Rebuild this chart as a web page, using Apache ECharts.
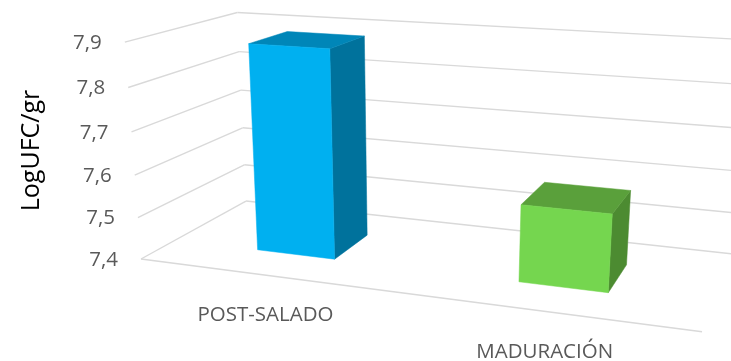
<!DOCTYPE html>
<html>
<head>
<meta charset="utf-8">
<style>html,body{margin:0;padding:0;background:#fff}#c{width:731px;height:361px}</style>
<script src="https://cdn.jsdelivr.net/npm/echarts@6/dist/echarts.min.js"></script>
</head>
<body>
<div id="c"></div>
<script>
var categories = ['POST-SALADO', 'MADURACIÓN'];
var values = [7.886, 7.576];
var ticks = [7.4, 7.5, 7.6, 7.7, 7.8, 7.9];
var tickLabels = ['7,4', '7,5', '7,6', '7,7', '7,8', '7,9'];
var axisTitle = 'LogUFC/gr';
var faceColors = [
  { front: '#00B0F0', side: '#00729C', top: '#0086B8' },
  { front: '#75D64F', side: '#4C8B31', top: '#5AA03B' }
];

// Perspective view of the plot box: vanishing points of the three box directions,
// the near floor corner and the scale along each direction.
var FONT = '"Open Sans", sans-serif';
var GRID = { left: 125, top: 42, right: 29, bottom: 102 };
var ORIGIN = [141, 259];
var VP_U = [-3170, -170], SU = -0.1449;
var VP_V = [420, 4000], SV = -0.0548;
var VP_W = [907, -164], SW = 0.1588;
var BAR_W0 = 0.3, BAR_W1 = 0.68, BAR_BAND = 0.31;

function project(u, v, w) {
  var a = SU * u, b = SV * v, c = SW * w, d = 1 + a + b + c;
  return [
    (ORIGIN[0] + a * VP_U[0] + b * VP_V[0] + c * VP_W[0]) / d,
    (ORIGIN[1] + a * VP_U[1] + b * VP_V[1] + c * VP_W[1]) / d
  ];
}
function uOf(px, r) { return (px - r.x) / r.width; }
function vOf(py, r) { return (r.y + r.height - py) / r.height; }
var lineStyle = { stroke: '#D9D9D9', lineWidth: 1.4, fill: null };
function seg(p, q) {
  return { type: 'line', shape: { x1: p[0], y1: p[1], x2: q[0], y2: q[1] }, style: lineStyle, silent: true };
}
function face(pts, color) {
  return { type: 'polygon', shape: { points: pts }, style: { fill: color, stroke: color, lineWidth: 0.5 }, silent: true };
}

function renderWall(params, api) {
  var r = params.coordSys;
  var v = vOf(api.coord([0, api.value(1)])[1], r);
  var kids = [
    seg(project(0, v, 0), project(0, v, 1)),
    seg(project(0, v, 1), project(1, v, 1))
  ];
  if (params.dataIndex === 0) kids.push(seg(project(0, 0, 0), project(1, 0, 0)));
  var p = project(0, v, 0);
  kids.push({
    type: 'text', silent: true,
    style: { text: tickLabels[params.dataIndex], x: p[0] - 23, y: p[1] + 1,
      textAlign: 'right', textVerticalAlign: 'middle', font: '20.5px ' + FONT, fill: '#595959' }
  });
  return { type: 'group', children: kids };
}

function renderBar(params, api) {
  var r = params.coordSys, i = api.value(0);
  var top = api.coord([i, api.value(1)]);
  var half = api.size([1, 0])[0] * BAR_BAND / 2;
  var u0 = uOf(top[0] - half, r), u1 = uOf(top[0] + half, r), v = vOf(top[1], r);
  var c = faceColors[params.dataIndex];
  var w0 = BAR_W0, w1 = BAR_W1;
  return { type: 'group', children: [
    face([project(u1, 0, w0), project(u1, 0, w1), project(u1, v, w1), project(u1, v, w0)], c.side),
    face([project(u0, v, w0), project(u1, v, w0), project(u1, v, w1), project(u0, v, w1)], c.top),
    face([project(u0, 0, w0), project(u1, 0, w0), project(u1, v, w0), project(u0, v, w0)], c.front)
  ] };
}

function renderCategory(params, api) {
  var r = params.coordSys;
  var u = uOf(api.coord([api.value(0), ticks[0]])[0], r);
  var p = project(u, 0, 0);
  return { type: 'text', silent: true,
    style: { text: categories[params.dataIndex], x: p[0], y: p[1] + 40.5,
      textAlign: 'center', textVerticalAlign: 'middle', font: '20.5px ' + FONT, fill: '#595959' } };
}

var chart = echarts.init(document.getElementById('c'), null, { renderer: 'canvas' });
chart.setOption({
  animation: false,
  backgroundColor: '#fff',
  tooltip: { show: false },
  grid: GRID,
  xAxis: { type: 'category', data: categories, show: false },
  yAxis: {
    type: 'value', min: 7.4, max: 7.9, interval: 0.1,
    name: axisTitle, nameLocation: 'middle', nameGap: 81, nameRotate: 90,
    nameTextStyle: { fontFamily: FONT, fontSize: 25, color: '#000' },
    axisLine: { show: false }, axisTick: { show: false },
    axisLabel: { show: false }, splitLine: { show: false }
  },
  series: [
    { type: 'custom', renderItem: renderWall, clip: false, z: 1,
      data: ticks.map(function (t) { return [0, t]; }) },
    { type: 'custom', renderItem: renderBar, clip: false, z: 2,
      data: values.map(function (val, i) { return [i, val]; }) },
    { type: 'custom', renderItem: renderCategory, clip: false, z: 3,
      data: categories.map(function (c, i) { return [i, ticks[0]]; }) }
  ]
});
</script>
</body>
</html>
